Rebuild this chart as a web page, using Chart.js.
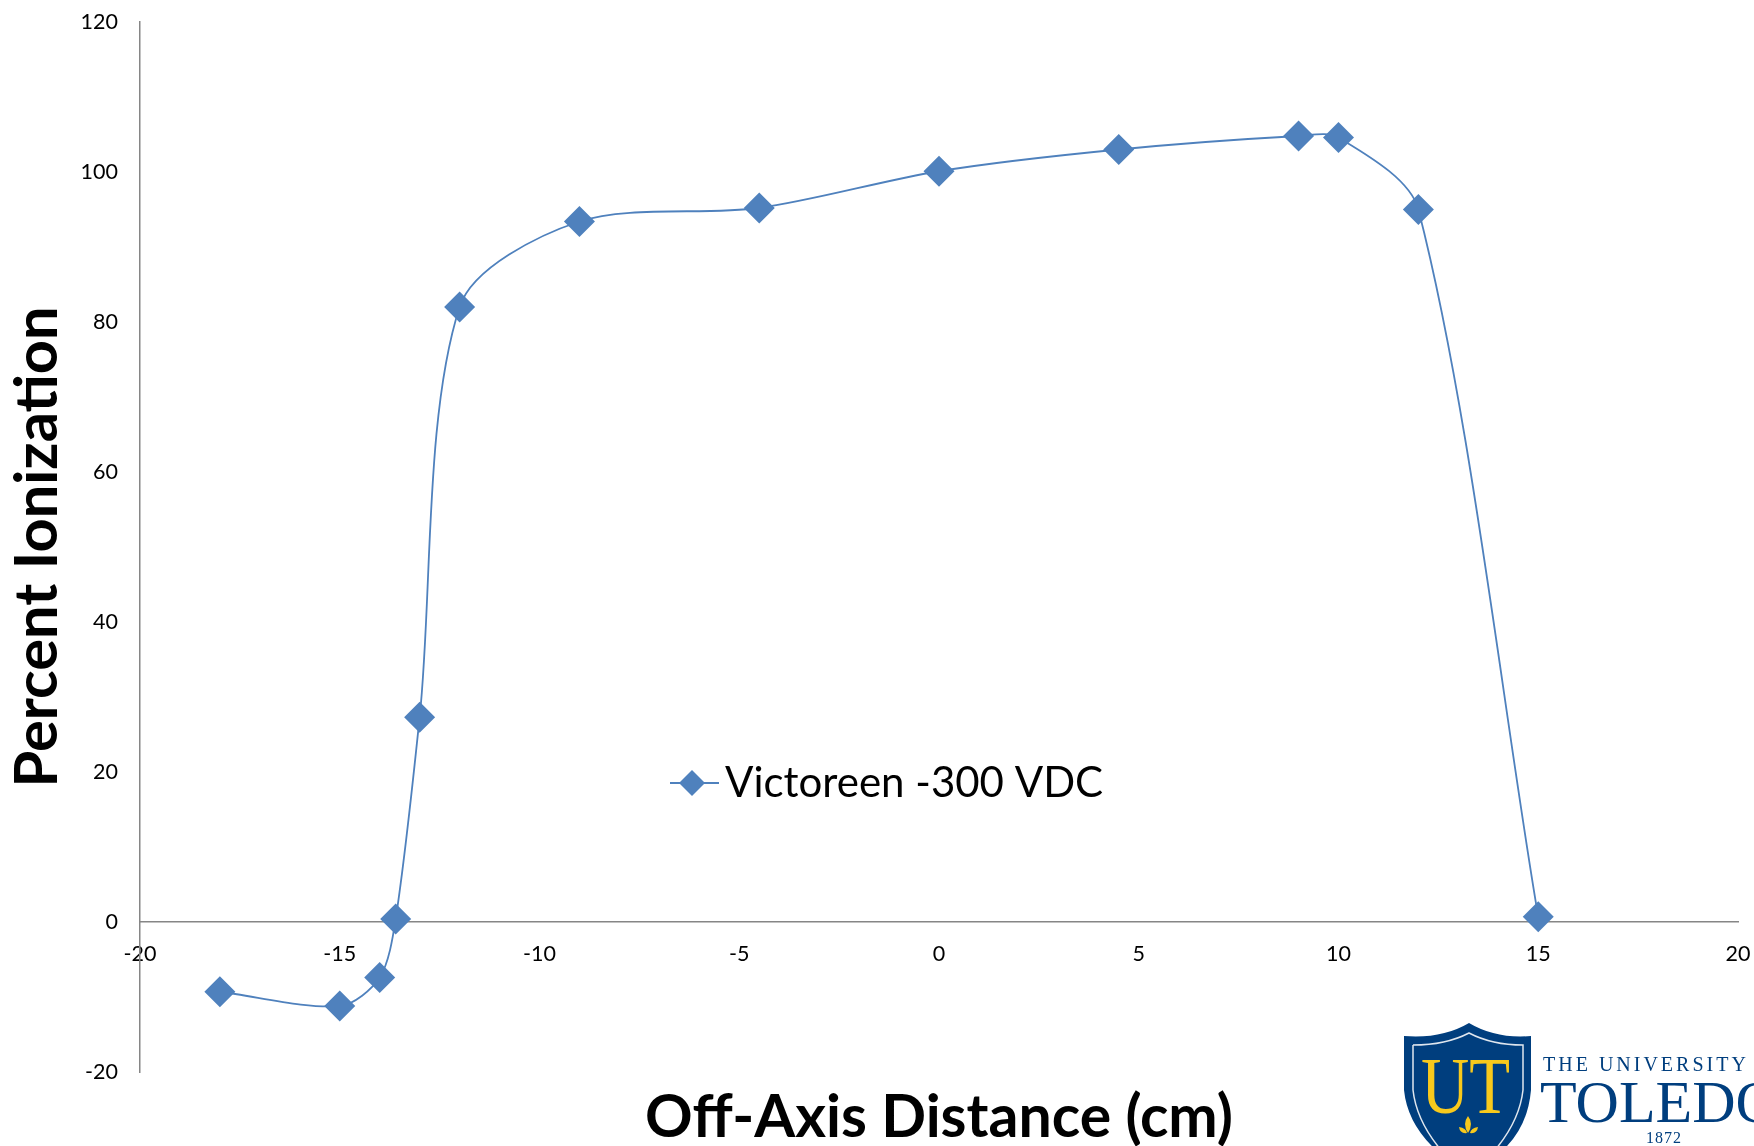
<!DOCTYPE html>
<html>
<head>
<meta charset="utf-8">
<title>Percent Ionization</title>
<script src="https://cdn.jsdelivr.net/npm/chart.js@4/dist/chart.umd.min.js"></script>
<style>
  html, body { margin: 0; padding: 0; background: #fff; overflow: hidden; }
  #wrap { position: relative; width: 1754px; height: 1146px; overflow: hidden; }
  #logo { position: absolute; left: 0; top: 0; }
</style>
</head>
<body>
<div id="wrap">
  <canvas id="chart" width="1754" height="1146"></canvas>
  <svg id="logo" width="1754" height="1146" viewBox="0 0 1754 1146">
    <path d="M1404 1036 Q1442 1039 1469 1023 Q1496 1039 1531 1036 L1531 1090 Q1527 1136 1490 1160 L1448 1160 Q1408 1130 1404 1090 Z" fill="#003e7e"/>
    <path d="M1413 1045 Q1446 1045 1469 1033 Q1492 1045 1523 1045 L1523 1090 Q1519 1126 1486 1160 M1413 1045 L1413 1090 Q1417 1126 1450 1160" fill="none" stroke="#dfe6ee" stroke-width="1.5"/>
    <text x="1421" y="1113" font-family="Liberation Serif" font-size="80" fill="#f8c91c" textLength="89" lengthAdjust="spacingAndGlyphs">UT</text>
    <path d="M1468 1116 Q1474 1124 1468 1133 Q1462 1124 1468 1116 Z M1459 1127 Q1466 1128 1467 1133 Q1460 1134 1459 1127 Z M1478 1127 Q1471 1128 1470 1133 Q1477 1134 1478 1127 Z" fill="#f8c91c"/>
    <text x="1543" y="1071" font-family="Liberation Serif" font-size="20" fill="#003e7e" letter-spacing="3">THE UNIVERSITY OF</text>
    <text x="1540" y="1122" font-family="Liberation Serif" font-size="60" fill="#003e7e">TOLEDO</text>
    <text x="1664" y="1143" font-family="Liberation Serif" font-size="16" fill="#003e7e" text-anchor="middle" letter-spacing="1">1872</text>
  </svg>
</div>
<script>
const seriesName = 'Victoreen -300 VDC';
const xTitle = 'Off-Axis Distance (cm)';
const yTitle = 'Percent Ionization';
const distances = [-18, -15, -14, -13.6, -13, -12, -9, -4.5, 0, 4.5, 9, 10, 12, 15];
const ionization = [-9.3, -11.2, -7.4, 0.4, 27.3, 82, 93.4, 95.2, 100.1, 103, 104.8, 104.6, 95, 0.7];
const xTicks = [-20, -15, -10, -5, 0, 5, 10, 15, 20];
const yTicks = [-20, 0, 20, 40, 60, 80, 100, 120];

const BLUE = '#4F81BD';
const AXIS = '#868686';
const FONT = "Lato, 'Open Sans', sans-serif";

// legend key: short line with a diamond on it
const key = document.createElement('canvas');
key.width = 54;
key.height = 30;
const k = key.getContext('2d');
k.fillStyle = BLUE;
k.fillRect(0, 14, 54, 2);
k.beginPath();
k.moveTo(27, 2); k.lineTo(40, 15); k.lineTo(27, 28); k.lineTo(14, 15);
k.closePath();
k.fill();

const moveLegend = {
  id: 'moveLegend',
  afterLayout(chart) {
    const l = chart.legend;
    const w = l.right - l.left, h = l.bottom - l.top;
    l.left = 670; l.right = l.left + w;
    l.top = 752; l.bottom = l.top + h;
  },
};

new Chart(document.getElementById('chart'), {
  type: 'scatter',
  plugins: [moveLegend],
  data: {
    datasets: [{
      label: seriesName,
      data: distances.map((x, i) => ({ x, y: ionization[i] })),
      showLine: true,
      borderColor: BLUE,
      borderWidth: 1.8,
      tension: 0.3,
      pointStyle: 'rectRot',
      pointRadius: 15.5,
      pointBackgroundColor: BLUE,
      pointBorderColor: BLUE,
      pointBorderWidth: 0,
    }],
  },
  options: {
    responsive: false,
    animation: false,
    layout: { padding: 0 },
    plugins: {
      tooltip: { enabled: false },
      legend: {
        position: 'chartArea',
        align: 'start',
        labels: {
          color: '#000',
          font: { family: FONT, size: 42 },
          usePointStyle: true,
          pointStyle: key,
          pointStyleWidth: 24,
          padding: 10,
          generateLabels: () => [{ text: seriesName, pointStyle: key, fontColor: '#000', lineWidth: 0, strokeStyle: BLUE, fillStyle: BLUE }],
        },
      },
      title: {
        display: true,
        text: xTitle,
        position: 'bottom',
        fullSize: false,
        color: '#000',
        font: { family: FONT, size: 59, weight: 'bold', lineHeight: 1 },
        padding: { top: 16, bottom: -1 },
      },
    },
    scales: {
      x: {
        type: 'linear',
        position: { y: 0 },
        min: -20,
        max: 20,
        afterBuildTicks: s => { s.ticks = xTicks.map(value => ({ value })); },
        afterFit: s => { s.paddingLeft = 0; s.paddingRight = 16; },
        grid: { display: false, drawTicks: false },
        border: { color: AXIS, width: 1.5 },
        ticks: { color: '#000', font: { family: FONT, size: 21.5 }, padding: 19, maxRotation: 0, autoSkip: false },
      },
      y: {
        type: 'linear',
        position: 'left',
        min: -20,
        max: 120,
        afterBuildTicks: s => { s.ticks = yTicks.map(value => ({ value })); },
        afterFit: s => { s.width = 140; s.paddingTop = 22; s.paddingBottom = 0; },
        grid: { display: false, drawTicks: false },
        border: { color: AXIS, width: 1.5 },
        ticks: { color: '#000', font: { family: FONT, size: 21.5 }, padding: 22, autoSkip: false },
        title: {
          display: true,
          text: yTitle,
          color: '#000',
          font: { family: FONT, size: 59.5, weight: 'bold', lineHeight: 1 },
          padding: { top: 8, bottom: 0 },
        },
      },
    },
  },
});
</script>
</body>
</html>
